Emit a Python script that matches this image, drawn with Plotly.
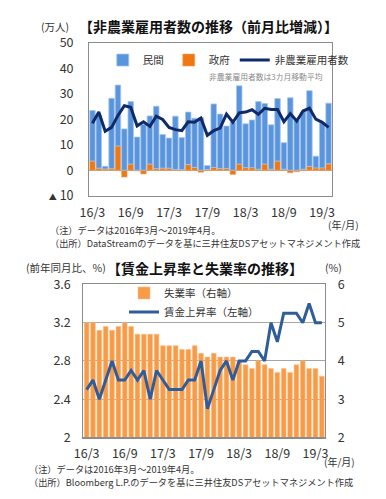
import plotly.graph_objects as go

# ---------------- data ----------------
months = ["16/3", "16/4", "16/5", "16/6", "16/7", "16/8", "16/9", "16/10", "16/11", "16/12",
          "17/1", "17/2", "17/3", "17/4", "17/5", "17/6", "17/7", "17/8", "17/9", "17/10", "17/11", "17/12",
          "18/1", "18/2", "18/3", "18/4", "18/5", "18/6", "18/7", "18/8", "18/9", "18/10", "18/11", "18/12",
          "19/1", "19/2", "19/3", "19/4"]
tick_months = ["16/3", "16/9", "17/3", "17/9", "18/3", "18/9", "19/3"]

# 非農業雇用者数（前月比増減, 万人）
private = [19.8, 20.7, 1.0, 27.6, 23.9, 16.2, 24.5, 13.0, 18.0, 18.9,
           24.5, 13.2, 11.8, 20.9, 12.6, 20.6, 19.3, 20.6, 1.5, 24.9, 21.3, 16.6,
           18.8, 30.7, 17.2, 18.7, 26.5, 23.8, 17.4, 24.5, 10.4, 28.4, 19.7, 22.4,
           29.7, 4.6, 17.6, 23.8]
government = [3.6, 0.8, 0.5, 0.6, 9.5, -2.7, 2.4, -0.3, -1.5, 2.4,
              0.6, 0.8, 0.8, 0.3, 0.2, 2.2, 1.1, -0.8, 0.3, 1.1, 0.7, 0.7,
              -1.7, 2.4, 1.0, 1.0, 0.4, 2.4, 0.4, 3.6, 0.4, -1.0, -0.6, 0.4,
              1.5, 0.9, 0.9, 2.5]
nonfarm_ma3 = [18.4, 22.8, 15.3, 16.8, 21.5, 25.3, 24.7, 17.4, 19.0, 17.2,
               21.2, 19.9, 16.8, 15.9, 15.5, 19.0, 18.8, 20.5, 13.7, 15.5, 16.5, 22.0,
               18.8, 22.5, 22.8, 23.7, 21.9, 24.3, 23.8, 23.8, 19.0, 22.2, 19.3, 23.2,
               24.3, 20.0, 18.8, 16.8]
top_ticks = [-10, 0, 10, 20, 30, 40, 50]
top_ticktext = ["<span style='font-size:8px'>▲</span> 10", "0", "10", "20", "30", "40", "50"]

# 失業率（右軸, %） / 賃金上昇率（左軸, 前年同月比 %）
unemployment = [5.0, 5.0, 4.8, 4.9, 4.8, 4.9, 5.0, 4.9, 4.7, 4.7,
                4.7, 4.7, 4.4, 4.4, 4.4, 4.3, 4.3, 4.4, 4.2, 4.1, 4.2, 4.1,
                4.1, 4.1, 4.0, 3.9, 3.8, 4.0, 3.9, 3.8, 3.7, 3.8, 3.7, 3.9,
                4.0, 3.8, 3.8, 3.6]
wage_growth = [2.5, 2.6, 2.4, 2.6, 2.8, 2.6, 2.6, 2.7, 2.6, 2.7,
               2.4, 2.7, 2.6, 2.5, 2.5, 2.5, 2.6, 2.6, 2.8, 2.3, 2.5, 2.7,
               2.8, 2.6, 2.8, 2.8, 2.9, 2.9, 2.8, 3.2, 3.0, 3.3, 3.3, 3.3,
               3.2, 3.4, 3.2, 3.2]
left_ticks = [2, 2.4, 2.8, 3.2, 3.6]
left_ticktext = ["2", "2.4", "2.8", "3.2", "3.6"]
right_ticks = [2, 3, 4, 5, 6]

# ---------------- layout helpers ----------------
W, H = 386, 499
FONT = "Noto Sans CJK JP"


def px(x):
    return x / W


def py(y):
    return 1 - y / H


fig = go.Figure()

# top chart
fig.add_trace(go.Bar(x=months, y=government, name="政府", width=0.86,
                     marker=dict(color="#EE7814", line=dict(color="#F5A45C", width=0.6)),
                     xaxis="x", yaxis="y", legend="legend", legendrank=2))
fig.add_trace(go.Bar(x=months, y=private, name="民間", width=0.86,
                     marker=dict(color="#5A94DC", line=dict(color="#A4C6EE", width=0.8)),
                     xaxis="x", yaxis="y", legend="legend", legendrank=1))
fig.add_trace(go.Scatter(x=months, y=nonfarm_ma3, name="非農業雇用者数", mode="lines",
                         line=dict(color="#0F2A68", width=3),
                         xaxis="x", yaxis="y", legend="legend", legendrank=3))

# bottom chart
fig.add_trace(go.Bar(x=months, y=unemployment, name="失業率（右軸）", width=0.74,
                     marker=dict(color="#F89B46", line=dict(color="#FBC08A", width=0.6)),
                     xaxis="x2", yaxis="y2", legend="legend2", legendrank=1))
fig.add_trace(go.Scatter(x=months, y=wage_growth, name="賃金上昇率（左軸）", mode="lines",
                         line=dict(color="#2F5D9B", width=3),
                         xaxis="x2", yaxis="y3", legend="legend2", legendrank=2))

axis_col = "#8C8C8C"
tickfont = dict(family=FONT, size=12.5, color="#333333")

fig.update_layout(
    width=W, height=H, autosize=False,
    margin=dict(l=0, r=0, t=0, b=0),
    paper_bgcolor="white", plot_bgcolor="white",
    font=dict(family=FONT, color="#333333"),
    barmode="relative",
    xaxis=dict(domain=[px(82), px(333)], anchor="y", type="category",
               tickmode="array", tickvals=tick_months, ticktext=tick_months,
               showline=True, mirror=True, linecolor=axis_col, linewidth=1.2,
               showgrid=False, ticks="", tickfont=tickfont, ticklabelstandoff=5),
    yaxis=dict(domain=[py(192), py(33)], anchor="x", range=[-10, 50],
               tickmode="array", tickvals=top_ticks, ticktext=top_ticktext,
               showline=True, mirror=True, linecolor=axis_col, linewidth=1.2,
               showgrid=False, zeroline=True, zerolinecolor="#B8A898", zerolinewidth=1.2,
               ticks="", tickfont=tickfont, ticklabelstandoff=12),
    xaxis2=dict(domain=[px(76), px(326)], anchor="y2", type="category",
                tickmode="array", tickvals=tick_months, ticktext=tick_months,
                showline=True, mirror=True, linecolor=axis_col, linewidth=1.2,
                showgrid=False, ticks="", tickfont=tickfont, ticklabelstandoff=4),
    yaxis2=dict(domain=[py(443.3), py(284.3)], anchor="x2", side="right", range=[2, 6],
                tickmode="array", tickvals=right_ticks,
                showline=True, linecolor=axis_col, linewidth=1.2,
                showgrid=True, gridcolor="#A6A6A6", gridwidth=1, zeroline=False,
                ticks="", tickfont=tickfont, ticklabelstandoff=9),
    yaxis3=dict(anchor="x2", overlaying="y2", side="left", range=[2, 3.6],
                tickmode="array", tickvals=left_ticks, ticktext=left_ticktext,
                showline=True, linecolor=axis_col, linewidth=1.2,
                showgrid=False, zeroline=False,
                ticks="", tickfont=tickfont, ticklabelstandoff=9),
    legend=dict(orientation="h", x=px(96), y=py(51), xanchor="left", yanchor="middle",
                bgcolor="rgba(0,0,0,0)", font=dict(family=FONT, size=10.5, color="#333333"),
                itemwidth=30, traceorder="normal", tracegroupgap=0),
    legend2=dict(orientation="v", x=px(118), y=py(303), xanchor="left", yanchor="middle",
                 bgcolor="rgba(0,0,0,0)", font=dict(family=FONT, size=10.5, color="#333333"),
                 itemwidth=30, traceorder="normal", tracegroupgap=0),
    showlegend=True,
)


def note(text, x, y, size, color="#333333", bold=False, anchor="left"):
    if bold:
        text = "<b>" + text + "</b>"
    fig.add_annotation(text=text, x=px(x), y=py(y), xref="paper", yref="paper",
                       xanchor=anchor, yanchor="middle", showarrow=False, borderpad=0,
                       font=dict(family=FONT, size=size, color=color))


# top texts
note("(万人)", 31, 16, 10.5)
note("【非農業雇用者数の推移（前月比増減）】", 70, 16, 14, color="#111111", bold=True)
note("非農業雇用者数は3カ月移動平均", 325, 68, 7.8, color="#8A8A8A", anchor="right")
note("(年/月)", 362, 222, 10, anchor="right")
note("（注）データは2016年3月～2019年4月。", 40, 228, 9.2)
note("（出所）DataStreamのデータを基に三井住友DSアセットマネジメント作成", 40, 241, 9.2)

# bottom texts
note("(前年同月比、%)", 16, 267, 10.5)
note("【賃金上昇率と失業率の推移】", 99, 267, 14, color="#111111", bold=True)
note("(%)", 325, 267, 10.5)
note("(年/月)", 358, 468, 10, anchor="right")
note("（注）データは2016年3月～2019年4月。", 19, 476, 9.2)
note("（出所）Bloomberg L.P.のデータを基に三井住友DSアセットマネジメント作成", 19, 490, 9.2)

fig.write_html("out.html",
               config={"displayModeBar": False, "staticPlot": True},
               post_script="document.body.style.margin='0';document.body.style.padding='0';")
